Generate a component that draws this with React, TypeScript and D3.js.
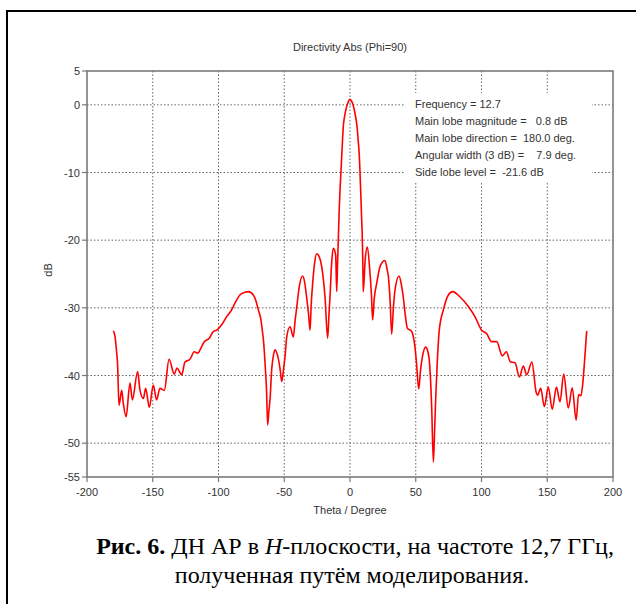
import React from "react";
import * as d3 from "d3";

// Directivity Abs (Phi=90), theta in degrees, value in dB
const theta = [
  -180, -178.7, -177.5, -176.7, -175.7, -173.6, -172.4, -170.3, -167.3, -165.5,
  -161.5, -159.7, -157.1, -155.4, -152.6, -149.6, -147.1, -144.5, -141.2, -137.6,
  -133.6, -131.6, -128, -125.5, -121.7, -118.4, -115.8, -113, -110.8, -107,
  -104, -101.4, -97.6, -93.8, -90, -87.5, -83.7, -80, -77.3, -73.5,
  -71.5, -69.7, -68, -66.7, -65.5, -64.6, -63.5, -62.6, -61.8, -60.8,
  -59.5, -58.2, -57, -55.5, -54.5, -53, -51.9, -50.5, -49.4, -48.1,
  -45.6, -43.1, -41.8, -40.5, -38.5, -36, -34.5, -33, -31.5, -30.4,
  -29.5, -28.4, -27, -25.3, -23.5, -21.5, -19, -17, -16, -15.2,
  -14, -12.7, -10.9, -10.1, -9.4, -8.9, -8.2, -7.6, -6.9, -6.3,
  -5.7, -5.1, -4.2, -3, -2, -1, 0, 1, 2, 3,
  4.2, 5.3, 6.2, 7.1, 7.6, 8.1, 8.7, 9.4, 9.8, 10.1,
  11.5, 13.2, 15.2, 16.3, 17.2, 18.5, 20.3, 23, 26.6, 28.2,
  29.2, 30.5, 31.7, 33, 34.2, 37.3, 39, 40.5, 42, 43.6,
  46.9, 49.4, 50.5, 52.3, 53.5, 55.3, 57.5, 59, 60.5, 62.1,
  63.4, 64.2, 65.2, 66.5, 67.9, 71, 74.8, 78.1, 83.7, 90,
  95, 100.1, 103.9, 107.7, 111.6, 115.8, 118.9, 122, 125.5, 128.8,
  131.8, 134.4, 138.3, 141.6, 142.7, 145, 147.8, 150.8, 153.8, 157,
  159.7, 162.5, 166, 169, 172, 173.8, 175.6, 177, 178.5, 180,
];

const directivity = [
  -33.4, -34.2, -36.5, -38.5, -44.4, -42.2, -44.1, -46.1, -41.1, -43.6,
  -39.4, -42.2, -43.4, -41.9, -44.7, -41.4, -43.6, -41.9, -42.2, -37.6,
  -39.8, -38.9, -39.9, -38.0, -37.6, -36.5, -36.7, -35.8, -35.0, -34.5,
  -33.5, -33.3, -32.5, -31.3, -30.3, -29.3, -28.1, -27.7, -27.6, -28.1,
  -29.0, -30.3, -31.5, -33.3, -35.5, -38.2, -42.0, -47.3, -45.5, -43.5,
  -39.0, -37.0, -36.2, -36.8, -37.5, -39.3, -40.9, -39.0, -37.2, -34.3,
  -32.8, -34.3, -32.0, -29.9, -26.8, -25.3, -26.2, -28.4, -31.0, -33.3,
  -29.5, -26.4, -23.5, -22.0, -22.4, -23.9, -28.4, -34.5, -31.0, -28.4,
  -23.5, -21.2, -22.2, -27.6, -23.0, -20.0, -15.5, -12.6, -10.0, -7.6,
  -5.3, -3.2, -1.8, -0.6, 0.1, 0.6, 0.8, 0.6, 0.2, -0.5,
  -1.7, -3.1, -5.2, -7.6, -10.0, -12.6, -16.0, -20.0, -24.0, -27.6,
  -23.0, -21.0, -24.9, -28.0, -31.8, -28.5, -26.4, -23.8, -23.0, -24.3,
  -25.4, -29.0, -33.9, -30.0, -27.4, -25.3, -26.5, -28.4, -31.0, -33.0,
  -33.5, -35.8, -38.0, -42.0, -39.5, -37.0, -35.8, -36.3, -38.2, -44.6,
  -52.8, -49.0, -43.2, -37.5, -33.3, -30.3, -28.1, -27.6, -28.4, -29.8,
  -31.3, -33.3, -33.8, -35.0, -35.0, -37.1, -36.5, -38.0, -38.1, -40.2,
  -38.6, -39.9, -38.0, -42.5, -42.9, -41.9, -44.6, -41.7, -45.0, -41.7,
  -43.9, -39.8, -44.8, -41.8, -46.6, -42.8, -43.0, -41.2, -37.5, -33.4,
];

const xTicks = [-200, -150, -100, -50, 0, 50, 100, 150, 200];
const yTicks = [5, 0, -10, -20, -30, -40, -50, -55];
const xGrid = [-150, -100, -50, 0, 50, 100, 150];
const yGrid = [0, -10, -20, -30, -40, -50];

const legendLines = [
  "Frequency = 12.7",
  "Main lobe magnitude =   0.8 dB",
  "Main lobe direction =  180.0 deg.",
  "Angular width (3 dB) =    7.9 deg.",
  "Side lobe level =  -21.6 dB",
];

const W = 636;
const H = 604;
const plot = { left: 87, right: 613, top: 71, bottom: 477 };
const font = "Liberation Sans, Arial, sans-serif";
const serif = "Liberation Serif, Times New Roman, serif";

export default function App() {
  const x = d3.scaleLinear().domain([-200, 200]).range([plot.left, plot.right]);
  const y = d3.scaleLinear().domain([-55, 5]).range([plot.bottom, plot.top]);

  const points: [number, number][] = theta.map((t, i) => [t, directivity[i]]);
  const line = d3
    .line<[number, number]>()
    .x((d) => x(d[0]))
    .y((d) => y(d[1]))
    .curve(d3.curveMonotoneX);

  return (
    <svg
      width={W}
      height={H}
      style={{ position: "absolute", left: 0, top: 0, background: "#fff" }}
    >
      {/* outer frame */}
      <rect x={7} y={11} width={660} height={620} fill="#fff" stroke="#000" strokeWidth={2} />

      <text x={350} y={51} textAnchor="middle" fontFamily={font} fontSize={11} fill="#333">
        Directivity Abs (Phi=90)
      </text>

      {/* grid */}
      {xGrid.map((t) => (
        <line key={"gx" + t} x1={x(t)} x2={x(t)} y1={plot.top} y2={plot.bottom}
          stroke="#666" strokeWidth={1} strokeDasharray="1.5,2" />
      ))}
      {yGrid.map((t) => (
        <line key={"gy" + t} x1={plot.left} x2={plot.right} y1={y(t)} y2={y(t)}
          stroke="#666" strokeWidth={1} strokeDasharray="1.5,2" />
      ))}

      {/* legend background */}
      <rect x={405} y={93} width={187} height={88} fill="#fff" />
      {legendLines.map((s, i) => (
        <text key={s} x={415} y={108 + i * 17} fontFamily={font} fontSize={11}
          fill="#333" style={{ whiteSpace: "pre" }}>
          {s}
        </text>
      ))}

      {/* curve */}
      <path d={line(points) ?? ""} fill="none" stroke="#ff0000" strokeWidth={1.6} strokeLinejoin="round" />

      {/* frame */}
      <rect x={plot.left} y={plot.top} width={plot.right - plot.left} height={plot.bottom - plot.top}
        fill="none" stroke="#7a7a7a" strokeWidth={1.6} />

      {/* y axis */}
      {yTicks.map((t) => (
        <g key={"yt" + t}>
          <line x1={plot.left - 5} x2={plot.left} y1={y(t)} y2={y(t)} stroke="#7a7a7a" strokeWidth={1.2} />
          <text x={plot.left - 7} y={y(t) + 4} textAnchor="end" fontFamily={font} fontSize={11} fill="#333">
            {t}
          </text>
        </g>
      ))}
      {/* x axis */}
      {xTicks.map((t) => (
        <g key={"xt" + t}>
          <line x1={x(t)} x2={x(t)} y1={plot.bottom} y2={plot.bottom + 5} stroke="#7a7a7a" strokeWidth={1.2} />
          <text x={x(t)} y={plot.bottom + 19} textAnchor="middle" fontFamily={font} fontSize={11} fill="#333">
            {t}
          </text>
        </g>
      ))}

      <text x={350} y={514} textAnchor="middle" fontFamily={font} fontSize={11} fill="#333">
        Theta / Degree
      </text>
      <text transform="translate(52,270) rotate(-90)" textAnchor="middle" fontFamily={font} fontSize={11} fill="#333">
        dB
      </text>

      {/* caption */}
      <text x={355} y={554} textAnchor="middle" fontFamily={serif} fontSize={24} fill="#000">
        <tspan fontWeight="bold">Рис. 6.</tspan>
        <tspan> ДН АР в </tspan>
        <tspan fontStyle="italic">H</tspan>
        <tspan>-плоскости, на частоте 12,7 ГГц,</tspan>
      </text>
      <text x={352} y={583} textAnchor="middle" fontFamily={serif} fontSize={24} fill="#000">
        полученная путём моделирования.
      </text>
    </svg>
  );
}
